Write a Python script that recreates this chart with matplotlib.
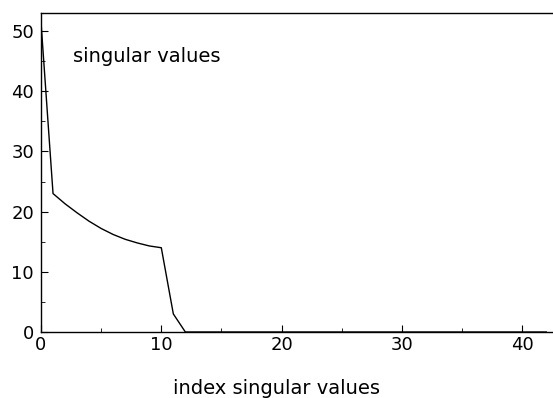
import matplotlib
matplotlib.use("Agg")
import matplotlib.pyplot as plt
from matplotlib.ticker import MultipleLocator

# singular values (index 0..42)
index = list(range(43))
sing_vals = [51.5, 23.0, 21.3, 19.8, 18.4, 17.2, 16.2, 15.4, 14.8, 14.3, 14.0, 3.0, 0.0] + [0.0] * 30

plt.rcParams['font.family'] = ['DejaVu Sans']

fig = plt.figure(figsize=(5.53, 3.98), dpi=100)
ax = fig.add_axes([41 / 553, 66 / 398, 512 / 553, 319 / 398])

ax.plot(index, sing_vals, color="black", linewidth=1.0)

ax.set_xlim(0, 42.56)
ax.set_ylim(0, 53)
ax.xaxis.set_major_locator(MultipleLocator(10))
ax.xaxis.set_minor_locator(MultipleLocator(5))
ax.yaxis.set_major_locator(MultipleLocator(10))
ax.yaxis.set_minor_locator(MultipleLocator(5))
ax.tick_params(which="both", direction="in", labelsize=13, top=False, right=False)
ax.tick_params(which="major", length=5)
ax.tick_params(which="minor", length=3)
ax.tick_params(axis="x", pad=3)
ax.tick_params(axis="y", pad=5)

for s in ax.spines.values():
    s.set_linewidth(1.0)
ax.spines["right"].set_visible(False)

ax.text(2.7, 45.7, "singular values", fontsize=14, va="center", ha="left")
fig.text(0.5, 0.025, "index singular values", fontsize=14, va="center", ha="center")

fig.savefig("out.png", dpi=100)
